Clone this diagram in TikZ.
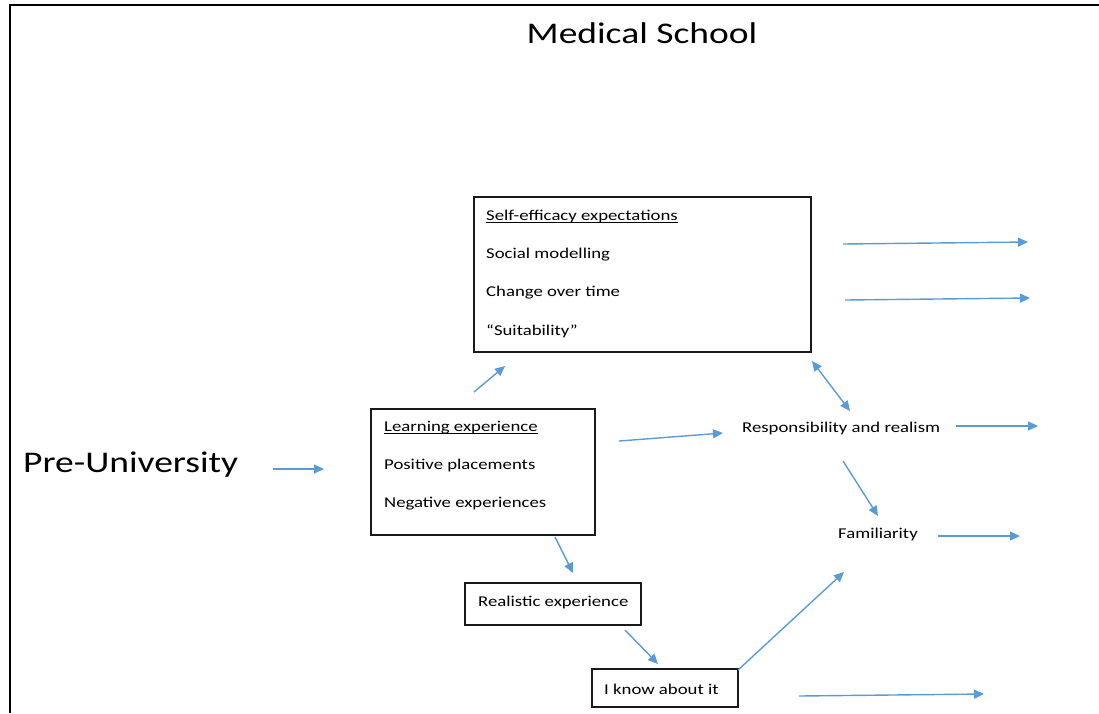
\documentclass[tikz,border=0pt]{standalone}
\usepackage{fontspec}
\setmainfont{Carlito}
\usetikzlibrary{arrows.meta}
\definecolor{arrowblue}{HTML}{5B9BD5}
\definecolor{boxline}{HTML}{1A1A1A}
% text in this chart is set slightly wide
\newcommand{\widetxt}[1]{\scalebox{1.25}[1]{#1}}
\begin{document}
\begin{tikzpicture}[x=1pt,y=-1pt,
  frame/.style={draw=black, line width=2pt},
  box/.style={draw=boxline, line width=1.2pt, rectangle, inner sep=0pt},
  lbl/.style={inner sep=0pt, anchor=base west, font=\fontsize{15}{18}\selectfont},
  big/.style={inner sep=0pt, font=\fontsize{30}{36}\selectfont},
  uline/.style={draw=black, line width=0.8pt},
  arr/.style={draw=arrowblue, line width=1.4pt, -{Triangle[length=10pt,width=9pt]}},
  darr/.style={draw=arrowblue, line width=1.4pt, {Triangle[length=10pt,width=9pt]}-{Triangle[length=10pt,width=9pt]}}]
\useasboundingbox (0,0) rectangle (1099,713);

% page frame (top and left edges)
\draw[frame] (1099,5) -- (10,5) -- (10,713);

% headings
\node[big] (title) at (642,33) {\widetxt{Medical School}};
\node[big, anchor=west] (preuni) at (23,465) {\widetxt{Pre-University}};

% self-efficacy box
\node[box, minimum width=337pt, minimum height=155pt] (selfeff) at (642.5,274.5) {};
\node[lbl] (se1) at (486,220) {\widetxt{Self-efficacy expectations}};
\node[lbl] (se2) at (486,258) {\widetxt{Social modelling}};
\node[lbl] (se3) at (486,296) {\widetxt{Change over time}};
\node[lbl] (se4) at (486,335) {\widetxt{“Suitability”}};
\draw[uline] ([yshift=-2.5pt]se1.base west) -- ([yshift=-2.5pt]se1.base east);

% learning experience box
\node[box, minimum width=224pt, minimum height=126pt] (learn) at (483,472) {};
\node[lbl] (le1) at (384,431) {\widetxt{Learning experience}};
\node[lbl] (le2) at (384,469) {\widetxt{Positive placements}};
\node[lbl] (le3) at (384,507) {\widetxt{Negative experiences}};
\draw[uline] ([yshift=-2.5pt]le1.base west) -- ([yshift=-2.5pt]le1.base east);

% small boxes
\node[box, minimum width=176pt, minimum height=42pt] (realbox) at (553,604) {};
\node[lbl] (real) at (478,606) {\widetxt{Realistic experience}};
\node[box, minimum width=146pt, minimum height=38pt] (knowbox) at (665,688) {};
\node[lbl] (know) at (604,694) {\widetxt{I know about it}};

% free-standing labels
\node[lbl] (resp) at (742,432) {\widetxt{Responsibility and realism}};
\node[lbl] (fam) at (838,538) {\widetxt{Familiarity}};

% arrow end points
\coordinate (pA) at (273,469);  \coordinate (pB) at (324,469);
\coordinate (lsA) at (474,392); \coordinate (lsB) at (505,366);
\coordinate (lrA) at (619,441); \coordinate (lrB) at (723,433);
\coordinate (lxA) at (555,537); \coordinate (lxB) at (573,573);
\coordinate (xkA) at (625,630); \coordinate (xkB) at (658,664);
\coordinate (kfA) at (738,670); \coordinate (kfB) at (844,572);
\coordinate (srA) at (812,361); \coordinate (srB) at (850,411);
\coordinate (rfA) at (843,461); \coordinate (rfB) at (878,516);
\coordinate (o1A) at (843,244); \coordinate (o1B) at (1028,242);
\coordinate (o2A) at (845,300); \coordinate (o2B) at (1030,298);
\coordinate (o3A) at (956,426); \coordinate (o3B) at (1038,426);
\coordinate (o4A) at (938,536); \coordinate (o4B) at (1020,536);
\coordinate (o5A) at (799,696); \coordinate (o5B) at (984,694);

% connectors
\draw[arr] (pA) -- (pB);
\draw[arr] (lsA) -- (lsB);
\draw[arr] (lrA) -- (lrB);
\draw[arr] (lxA) -- (lxB);
\draw[arr] (xkA) -- (xkB);
\draw[arr] (kfA) -- (kfB);
\draw[darr] (srA) -- (srB);
\draw[arr] (rfA) -- (rfB);
\draw[arr] (o1A) -- (o1B);
\draw[arr] (o2A) -- (o2B);
\draw[arr] (o3A) -- (o3B);
\draw[arr] (o4A) -- (o4B);
\draw[arr] (o5A) -- (o5B);
\end{tikzpicture}
\end{document}
